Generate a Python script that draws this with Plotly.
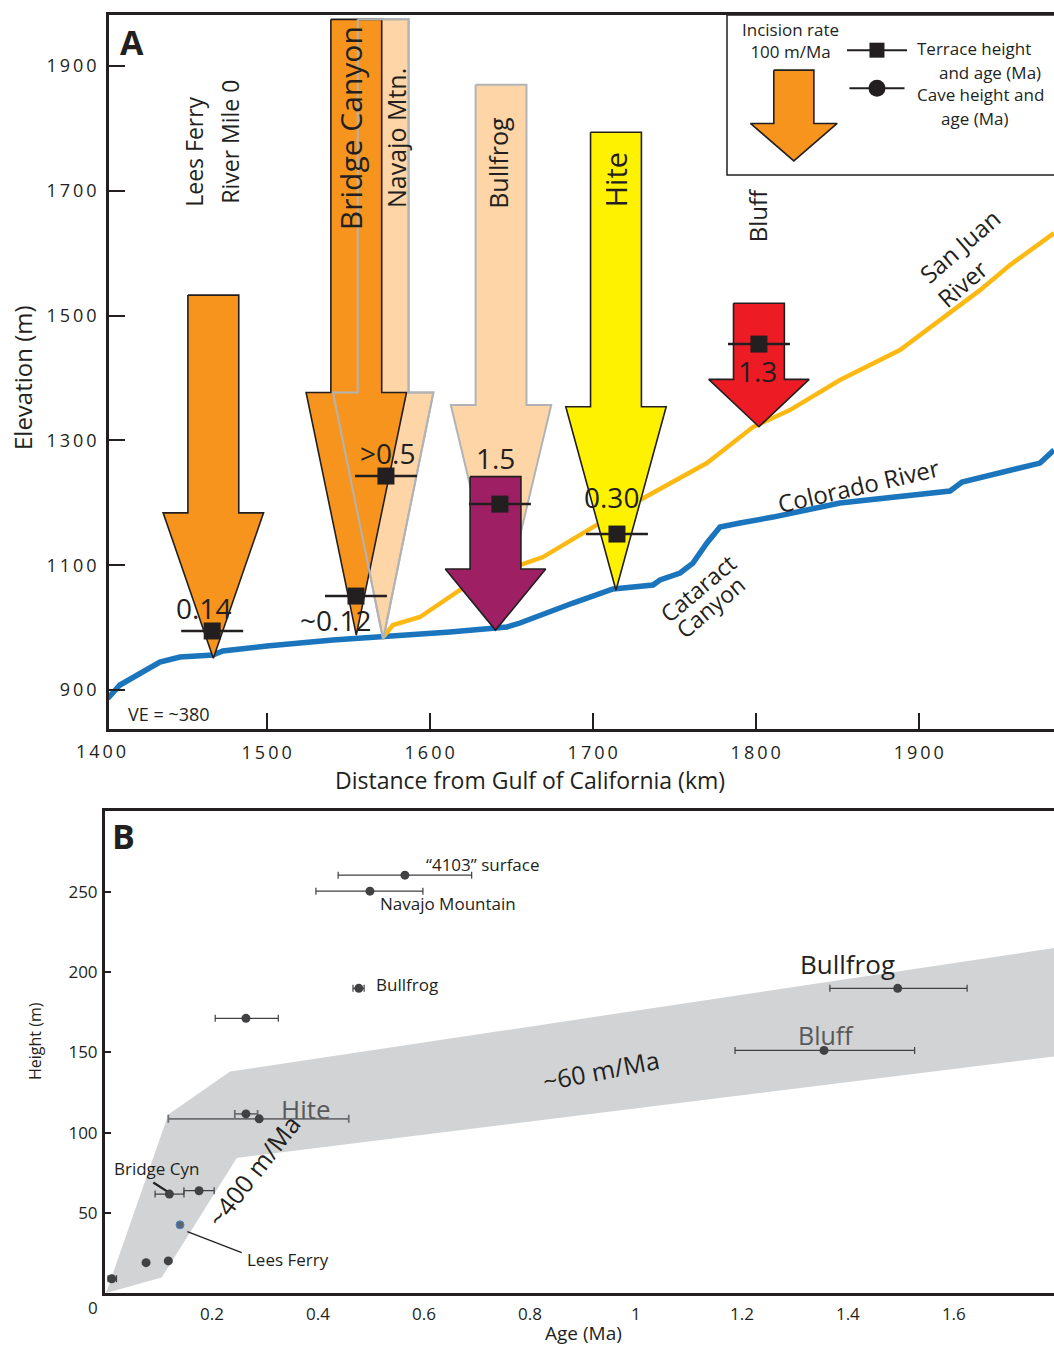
import plotly.graph_objects as go

W, H = 1054, 1346
DARK = "#231F20"
FONT = "Open Sans"

# ---------------- Panel A: river long profiles ----------------
colorado_km = [1400.0, 1403.3, 1410.0, 1428.4, 1434.5, 1446.8, 1467.0, 1473.1, 1500.2, 1540.7,
               1571.4, 1612.5, 1647.4, 1655.4, 1687.9, 1708.8, 1712.5, 1737.0, 1741.3, 1753.6,
               1761.5, 1770.1, 1778.1, 1790.4, 1810.6, 1851.7, 1876.3, 1900.8, 1919.2, 1926.6,
               1949.9, 1974.4, 1983.0]
colorado_elev = [884.0, 888.8, 908.0, 935.3, 944.9, 952.9, 956.0, 962.5, 970.5, 980.1,
                 984.9, 993.0, 1001.0, 1007.4, 1039.4, 1057.0, 1061.9, 1068.3, 1076.3, 1087.5,
                 1103.5, 1135.6, 1161.2, 1167.6, 1177.2, 1199.7, 1206.0, 1212.5, 1218.9, 1233.3,
                 1247.8, 1263.8, 1284.6]

sanjuan_km = [1571.4, 1577.5, 1594.1, 1606.3, 1618.6, 1655.4, 1669.5, 1700.2, 1729.0, 1770.1,
              1786.1, 1798.3, 1821.0, 1851.7, 1888.5, 1913.1, 1937.6, 1956.0, 1983.0]
sanjuan_elev = [984.9, 1004.2, 1017.0, 1037.8, 1060.3, 1100.3, 1113.1, 1161.2, 1204.5, 1263.8,
                1295.8, 1321.5, 1348.7, 1396.8, 1444.9, 1492.9, 1541.0, 1581.1, 1632.4]

# Incision arrows: centre distance (km), top, head-base and tip elevations (m)
arrow_site = ["Lees Ferry", "Navajo Mtn.", "Bridge Canyon", "Bullfrog", "Bullfrog terrace", "Hite", "Bluff"]
arrow_km = [1467.3, 1571.5, 1555.0, 1643.8, 1640.4, 1714.3, 1802.0]
arrow_top = [1533, 1975, 1975, 1870, 1242, 1794, 1520]
arrow_neck = [1184, 1377, 1377, 1357, 1094, 1354, 1398]
arrow_tip = [951, 981, 988, 1020, 996, 1060, 1322]

# Terrace heights and ages
terrace_km = [1466.6, 1554.8, 1573.2, 1643.1, 1714.9, 1802.0]
terrace_elev = [994.6, 1050.6, 1243.0, 1198.0, 1150.0, 1454.5]
terrace_age = ["0.14", "~0.12", ">0.5", "1.5", "0.30", "1.3"]

# Site names written vertically above the arrows
site_names = ["Lees Ferry", "River Mile 0", "Bridge Canyon", "Navajo Mtn.", "Bullfrog", "Hite", "Bluff"]
site_km = [1454.9, 1477.0, 1551.9, 1579.4, 1641.9, 1713.7, 1800.8]
site_elev = [1763, 1779, 1801, 1785, 1745, 1717, 1661]

# Axis tick values
elev_ticks = [900, 1100, 1300, 1500, 1700, 1900]
dist_ticks = [1500, 1600, 1700, 1800, 1900]
age_ticks = [0.2, 0.4, 0.6, 0.8, 1.0, 1.2, 1.4, 1.6]
age_ticktext = ["0.2", "0.4", "0.6", "0.8", "1", "1.2", "1.4", "1.6"]
height_ticks = [50, 100, 150, 200, 250]

# ---------------- Panel B: height vs age ----------------
cave_age = [0.564, 0.498, 0.477, 0.264, 1.494, 1.355, 0.1195, 0.1755, 0.0755, 0.1175, 0.0107]
cave_height = [260.6, 250.6, 190.0, 171.3, 190.0, 151.3, 61.7, 63.8, 18.9, 20.0, 8.9]
cave_err_minus = [0.126, 0.102, 0.011, 0.058, 0.128, 0.168, 0.027, 0.0285, 0.0, 0.0, 0.007]
cave_err_plus = [0.126, 0.100, 0.010, 0.061, 0.131, 0.171, 0.0275, 0.0285, 0.0, 0.0, 0.009]

hite_age = [0.264, 0.289]
hite_height = [111.7, 108.6]
hite_err_minus = [0.021, 0.1715]
hite_err_plus = [0.022, 0.169]

leesferry_age = [0.1396]
leesferry_height = [42.5]

band_age = [0.0, 0.1175, 0.234, 1.80, 1.80, 0.2466, 0.105, 0.0]
band_height = [0.0, 111.3, 138.1, 215.7, 148.0, 84.2, 9.6, 0.0]

ORANGE = "#F7941D"
PEACH = "#FDD5A6"
PURPLE = "#9E1F63"
YELLOW = "#FFF200"
RED = "#ED1C24"
arrow_fill = [ORANGE, PEACH, ORANGE, PEACH, PURPLE, YELLOW, RED]
arrow_edge = [DARK, "#B1B3B6", DARK, "#B1B3B6", DARK, DARK, DARK]

SHAFT_HALF, HEAD_HALF = 15.6, 30.8


def arrow_poly(cx, top, neck, tip, sh=SHAFT_HALF, hh=HEAD_HALF):
    xs = [cx - sh, cx + sh, cx + sh, cx + hh, cx, cx - hh, cx - sh, cx - sh]
    ys = [top, top, neck, neck, tip, neck, neck, top]
    return xs, ys


def pp(xp, yp):
    """pixel position -> paper coordinates"""
    return xp / W, 1 - yp / H


def spaced(v):
    """tick label with the wide letter spacing of the elevation/distance axes"""
    return "\u2009".join(str(v))


fig = go.Figure()

# rivers
fig.add_trace(go.Scatter(x=colorado_km, y=colorado_elev, mode="lines",
                         line=dict(color="#1B75BC", width=5.5), xaxis="x", yaxis="y"))
fig.add_trace(go.Scatter(x=sanjuan_km, y=sanjuan_elev, mode="lines",
                         line=dict(color="#FDB913", width=4.5), xaxis="x", yaxis="y"))


def add_arrow(i, fill=True):
    xs, ys = arrow_poly(arrow_km[i], arrow_top[i], arrow_neck[i], arrow_tip[i])
    fig.add_trace(go.Scatter(
        x=xs, y=ys, mode="lines",
        fill="toself" if fill else None,
        fillcolor=arrow_fill[i],
        line=dict(color=arrow_edge[i], width=2 if arrow_edge[i] != DARK else 1.6),
        xaxis="x", yaxis="y"))


add_arrow(0)          # Lees Ferry
add_arrow(1)          # Navajo Mtn.
add_arrow(2)          # Bridge Canyon
add_arrow(1, False)   # Navajo outline over Bridge Canyon
add_arrow(3)          # Bullfrog
add_arrow(4)          # Bullfrog terrace
add_arrow(5)          # Hite
add_arrow(6)          # Bluff

# legend arrow (100 m/Ma)
lx, ly = arrow_poly(1823.4, 1893.6, 1808.2, 1748.2, sh=12.3, hh=26.6)
fig.add_trace(go.Scatter(x=lx, y=ly, mode="lines", fill="toself", fillcolor=ORANGE,
                         line=dict(color=DARK, width=1.6), xaxis="x", yaxis="y"))

# terrace markers
fig.add_trace(go.Scatter(
    x=terrace_km, y=terrace_elev, mode="markers",
    marker=dict(symbol="square", size=17, color=DARK),
    error_x=dict(type="constant", value=19, color=DARK, thickness=2.5, width=0),
    xaxis="x", yaxis="y"))

# legend keys
fig.add_trace(go.Scatter(
    x=[1874.4], y=[1925.6], mode="markers",
    marker=dict(symbol="square", size=15, color=DARK),
    error_x=dict(type="constant", value=18.4, color=DARK, thickness=2, width=0),
    xaxis="x", yaxis="y"))
fig.add_trace(go.Scatter(
    x=[1874.4], y=[1864.7], mode="markers",
    marker=dict(symbol="circle", size=17, color=DARK),
    error_x=dict(type="constant", value=16.9, color=DARK, thickness=2, width=0),
    xaxis="x", yaxis="y"))

# ---- panel B ----
fig.add_trace(go.Scatter(x=band_age, y=band_height, mode="lines", fill="toself",
                         fillcolor="#D1D3D4", line=dict(width=0, color="#D1D3D4"),
                         xaxis="x2", yaxis="y2"))
fig.add_trace(go.Scatter(
    x=cave_age, y=cave_height, mode="markers",
    marker=dict(symbol="circle", size=9, color="#414042"),
    error_x=dict(type="data", array=cave_err_plus, arrayminus=cave_err_minus,
                 color="#414042", thickness=1.2, width=3.5),
    xaxis="x2", yaxis="y2"))
fig.add_trace(go.Scatter(
    x=hite_age, y=hite_height, mode="markers",
    marker=dict(symbol="circle", size=9, color="#414042"),
    error_x=dict(type="data", array=hite_err_plus, arrayminus=hite_err_minus,
                 color="#6D6E71", thickness=1.8, width=4),
    xaxis="x2", yaxis="y2"))
fig.add_trace(go.Scatter(
    x=leesferry_age, y=leesferry_height, mode="markers",
    marker=dict(symbol="circle", size=8, color="#5B6573", line=dict(color="#4F86C6", width=1)),
    xaxis="x2", yaxis="y2"))

shapes = [
    # legend frame
    dict(type="rect", xref="paper", yref="paper",
         x0=727 / W, x1=1.01, y0=1 - 175 / H, y1=1 - 15 / H,
         line=dict(color=DARK, width=1.5), fillcolor="white", layer="below"),
    # leader lines
    dict(type="line", xref="x2", yref="y2", x0=0.0892, y0=68.9, x1=0.1145, y1=63.5,
         line=dict(color=DARK, width=2.2)),
    dict(type="line", xref="x2", yref="y2", x0=0.1534, y0=38.3, x1=0.256, y1=25.2,
         line=dict(color=DARK, width=1.2)),
]

ann = []


def note(text, x, y, size, xref="x", yref="y", angle=0, color=DARK, bold=False, **kw):
    ann.append(dict(text=("<b>%s</b>" % text) if bold else text, x=x, y=y, xref=xref, yref=yref,
                    showarrow=False, textangle=angle, xanchor=kw.pop("xanchor", "center"),
                    yanchor=kw.pop("yanchor", "middle"),
                    font=dict(family=FONT, size=size, color=color), **kw))


# terrace age labels
age_shift = [(-9, 23), (-20, -24), (2, 23), (-4, 46), (-5, 37), (-1, -27)]
for km, el, t, (dx, dy) in zip(terrace_km, terrace_elev, terrace_age, age_shift):
    note(t, km, el, 28, xshift=dx, yshift=dy)

site_size = [23, 23, 30, 25, 25, 29, 24]
for t, km, el, s in zip(site_names, site_km, site_elev, site_size):
    note(t, km, el, s, angle=-90)

note("A", 1417.4, 1938.5, 34, bold=True)
note("VE = ~380", 1440, 861.5, 18)
note("San Juan", 1925.3, 1613, 24, angle=-41)
note("River", 1926.6, 1552, 24, angle=-41)
note("Colorado River", 1862.8, 1228.5, 24, angle=-13)
note("Cataract", 1764.6, 1063.5, 23, angle=-40)
note("Canyon", 1772.0, 1033.0, 23, angle=-40)

# legend text
note("Incision rate<br>100 m/Ma", *pp(790, 40), 17, xref="paper", yref="paper")
note("Terrace height", *pp(974, 49), 17, xref="paper", yref="paper")
note("and age (Ma)", *pp(990, 72), 17, xref="paper", yref="paper")
note("Cave height and", *pp(980, 95), 17, xref="paper", yref="paper")
note("age (Ma)", *pp(974, 118), 17, xref="paper", yref="paper")

# axis titles and stray tick label
note("Elevation (m)", *pp(22, 378), 24, xref="paper", yref="paper", angle=-90)
note("Distance from Gulf of California (km)", *pp(530, 780), 23, xref="paper", yref="paper")
note(spaced(1400), *pp(101, 751), 18, xref="paper", yref="paper")
note("Height (m)", *pp(35, 1041), 16, xref="paper", yref="paper", angle=-90)
note("Age (Ma)", *pp(583, 1333), 19, xref="paper", yref="paper")
note("0", *pp(93, 1307), 17, xref="paper", yref="paper")

# panel B labels
note("B", 0.032, 285, 34, xref="x2", yref="y2", bold=True)
note("\u201c4103\u201d surface", 0.711, 267.5, 17, xref="x2", yref="y2")
note("Navajo Mountain", 0.645, 243.1, 17, xref="x2", yref="y2")
note("Bullfrog", 0.568, 192.5, 17, xref="x2", yref="y2")
note("Bullfrog", 1.40, 205.0, 26, xref="x2", yref="y2")
note("Bluff", 1.358, 160.6, 25, xref="x2", yref="y2", color="#58595B")
note("Hite", 0.377, 115.0, 26, xref="x2", yref="y2", color="#58595B")
note("~60 m/Ma", 0.934, 138.8, 25, xref="x2", yref="y2", angle=-11)
note("~400 m/Ma", 0.277, 76.3, 25, xref="x2", yref="y2", angle=-52)
note("Bridge Cyn", 0.096, 77.5, 17, xref="x2", yref="y2")
note("Lees Ferry", 0.343, 20.6, 17, xref="x2", yref="y2")

axA = dict(showgrid=False, zeroline=False, showline=True, linecolor=DARK, linewidth=2.5,
           ticks="inside", ticklen=16, tickwidth=2.2, tickcolor=DARK,
           tickfont=dict(family=FONT, size=18, color=DARK))
axB = dict(showgrid=False, zeroline=False, showline=True, linecolor=DARK, linewidth=3,
           tickfont=dict(family=FONT, size=17, color=DARK))

fig.update_layout(
    width=W, height=H, autosize=False,
    margin=dict(l=0, r=0, t=0, b=0, pad=0),
    paper_bgcolor="white", plot_bgcolor="white",
    showlegend=False,
    font=dict(family=FONT, color=DARK),
    xaxis=dict(axA, domain=[109 / W, 1.0], range=[1403.3, 1983], anchor="y",
               tickvals=dist_ticks, ticktext=[spaced(v) for v in dist_ticks],
               mirror=True, ticklabelstandoff=6),
    yaxis=dict(axA, domain=[1 - 729 / H, 1 - 15 / H], range=[837.5, 1982], anchor="x",
               tickvals=elev_ticks, ticktext=[spaced(v) for v in elev_ticks],
               ticklabelstandoff=6),
    xaxis2=dict(axB, domain=[105 / W, 1.0], range=[-0.002, 1.789], anchor="y2",
                tickvals=age_ticks, ticktext=age_ticktext,
                ticks="", mirror=True, ticklabelstandoff=4),
    yaxis2=dict(axB, domain=[1 - 1293 / H, 1 - 811 / H], range=[0, 300.6], anchor="x2",
                tickvals=height_ticks, ticks="inside", ticklen=6,
                tickwidth=1.5, tickcolor=DARK, ticklabelstandoff=1),
    shapes=shapes,
    annotations=ann,
)

fig.write_html("out.html")
